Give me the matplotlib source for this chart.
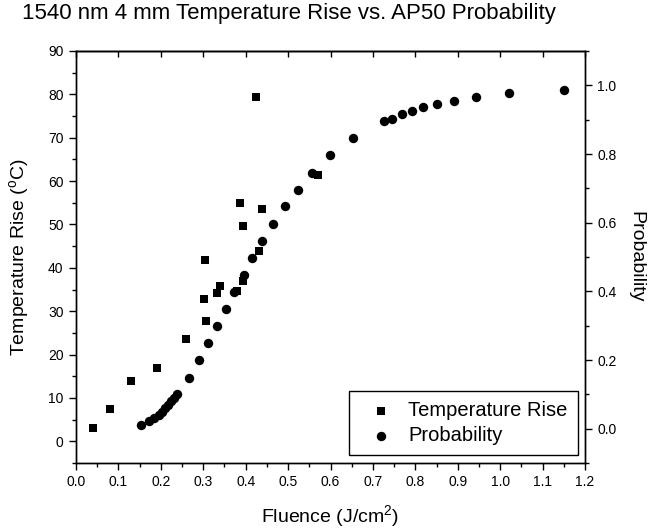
import numpy as np
import matplotlib
matplotlib.use("Agg")
import matplotlib.pyplot as plt
from matplotlib.ticker import MultipleLocator, FormatStrFormatter

plt.rcParams['font.family'] = ['Liberation Sans', 'DejaVu Sans']
plt.rcParams['mathtext.fontset'] = 'custom'
plt.rcParams['mathtext.rm'] = 'Liberation Sans'
plt.rcParams['mathtext.it'] = 'Liberation Sans:italic'

# Temperature rise data (squares)
fluence_temp = [0.041, 0.080, 0.129, 0.192, 0.260, 0.301, 0.307, 0.304, 0.333, 0.339,
                0.379, 0.386, 0.394, 0.394, 0.424, 0.432, 0.438, 0.570]
temp_rise = [3.1, 7.4, 14.0, 16.8, 23.7, 32.9, 27.8, 41.8, 34.3, 35.9,
             34.7, 55.0, 36.9, 49.7, 79.4, 43.9, 53.6, 61.3]

# Probability data (circles)
fluence_prob = [0.153, 0.172, 0.185, 0.195, 0.203, 0.211, 0.218, 0.225, 0.231, 0.237,
                0.267, 0.290, 0.312, 0.333, 0.354, 0.373, 0.395, 0.416, 0.438, 0.465,
                0.493, 0.523, 0.556, 0.599, 0.654, 0.727, 0.746, 0.768, 0.792, 0.819,
                0.852, 0.892, 0.943, 1.021, 1.151]
probability = [0.012, 0.022, 0.031, 0.041, 0.050, 0.060, 0.070, 0.080, 0.090, 0.102,
               0.147, 0.200, 0.250, 0.300, 0.349, 0.397, 0.448, 0.497, 0.547, 0.597,
               0.648, 0.696, 0.746, 0.797, 0.846, 0.895, 0.903, 0.917, 0.924, 0.936,
               0.946, 0.955, 0.965, 0.977, 0.985]

W, H = 652, 530
fig = plt.figure(figsize=(W / 100, H / 100), dpi=100)
ax = fig.add_axes([76 / W, 67 / H, 509 / W, 412 / H])
ax2 = ax.twinx()

lw = 1.0
for a in (ax, ax2):
    for s in a.spines.values():
        s.set_linewidth(lw)

sq = ax.scatter(fluence_temp, temp_rise, marker='s', s=30, color='black',
                linewidths=0, label='Temperature Rise', zorder=3)
ci = ax2.scatter(fluence_prob, probability, marker='o', s=46, color='black',
                 linewidths=0, label='Probability', zorder=3)

ax.set_xlim(0, 1.2)
ax.set_ylim(-5, 90)
ax2.set_ylim(-0.1, 1.1)

ax.xaxis.set_major_locator(MultipleLocator(0.1))
ax.xaxis.set_minor_locator(MultipleLocator(0.05))
ax.xaxis.set_major_formatter(FormatStrFormatter('%.1f'))
ax.yaxis.set_major_locator(MultipleLocator(10))
ax.yaxis.set_minor_locator(MultipleLocator(5))
ax.set_yticks(np.arange(0, 91, 10))
ax2.yaxis.set_major_locator(MultipleLocator(0.2))
ax2.yaxis.set_minor_locator(MultipleLocator(0.1))
ax2.set_yticks(np.arange(0, 1.01, 0.2))
ax2.yaxis.set_major_formatter(FormatStrFormatter('%.1f'))

ax.tick_params(axis='both', which='major', direction='out', length=5, width=lw,
               labelsize=10, pad=4)
ax.tick_params(axis='both', which='minor', direction='out', length=3, width=lw)
ax.tick_params(axis='y', which='both', right=False)
ax2.tick_params(axis='y', which='major', direction='out', length=5, width=lw,
                labelsize=10, pad=4)
ax2.tick_params(axis='y', which='minor', direction='out', length=3, width=lw)

top = ax.secondary_xaxis('top')
top.set_xticks(np.arange(0, 1.21, 0.1))
top.tick_params(direction='in', length=4, width=lw, labeltop=False)
top.spines['top'].set_linewidth(lw)

ax.set_xlabel('Fluence (J/cm$^{2}$)', fontsize=14, labelpad=10)
ax.set_ylabel('Temperature Rise ($^{\\mathrm{o}}$C)', fontsize=14, labelpad=12)
ax2.set_ylabel('Probability', fontsize=14, rotation=270, labelpad=20)

fig.text(22 / W, 1 - 14 / H, '1540 nm 4 mm Temperature Rise vs. AP50 Probability',
         fontsize=16, ha='left', va='center')

leg = ax2.legend(handles=[sq, ci], loc='lower right', bbox_to_anchor=(0.986, 0.019),
                 borderaxespad=0, fontsize=14.5, handlelength=2.2, handletextpad=0.25,
                 labelspacing=0.3, borderpad=0.5, fancybox=False, framealpha=1,
                 edgecolor='black', scatterpoints=1)
leg.get_frame().set_linewidth(lw)

fig.savefig('out.png', dpi=100)
